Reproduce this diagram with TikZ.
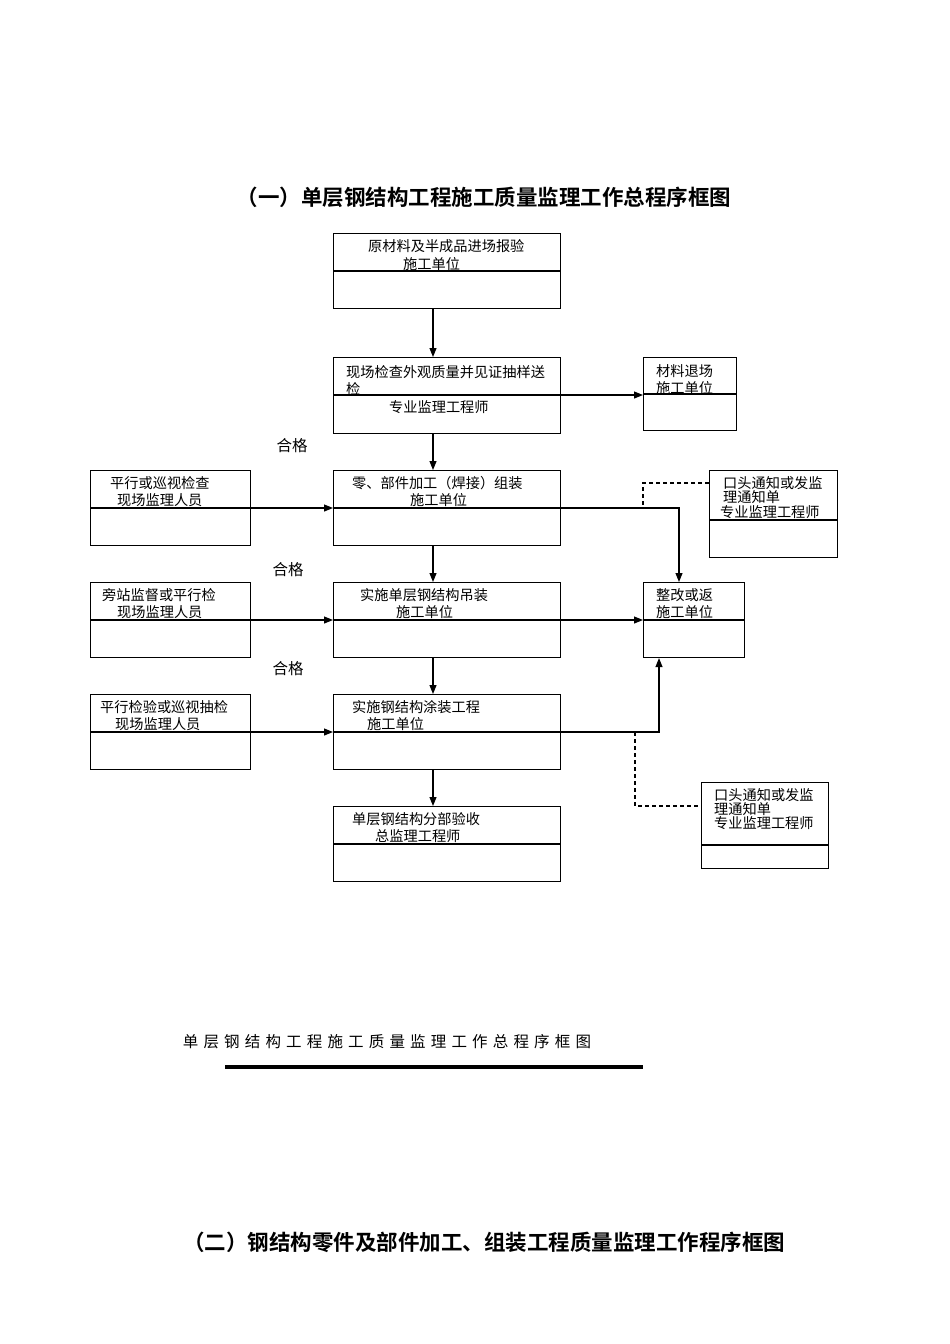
\documentclass[tikz,border=0pt]{standalone}
\usepackage{fontspec}
\setmainfont{Noto Sans CJK SC}[BoldFont={Noto Sans CJK SC Bold}]
\usetikzlibrary{arrows.meta}
\begin{document}
\begin{tikzpicture}[x=1pt,y=-1pt,
  bx/.style={draw,line width=1.1pt,anchor=north west,inner sep=0pt},
  t/.style={anchor=west,inner sep=0pt,font=\fontsize{14.2}{15}\selectfont},
  ar/.style={line width=1.1pt,-{Triangle[length=9pt,width=7pt]}},
  ln/.style={line width=1.1pt},
  ds/.style={line width=1.1pt,dash pattern=on 4pt off 3pt}]
\useasboundingbox (0,0) rectangle (950,1344);
\newcommand\mybox[6]{\node[bx,minimum width=#4-#2,minimum height=#5-#3] (#1) at (#2,#3) {};
  \draw[ln] (#2,#6) -- (#4,#6);}
\mybox{b1}{333}{233}{560}{308}{271}
\mybox{b2}{333}{357}{560}{433}{395}
\mybox{b3}{333}{470}{560}{545}{508}
\mybox{b4}{333}{582}{560}{657}{620}
\mybox{b5}{333}{694}{560}{769}{732}
\mybox{b6}{333}{806}{560}{881}{844}
\mybox{l1}{90}{470}{250}{545}{508}
\mybox{l2}{90}{582}{250}{657}{620}
\mybox{l3}{90}{694}{250}{769}{732}
\mybox{r1}{643}{357}{736}{430}{394}
\mybox{fx}{643}{582}{744}{657}{620}
\mybox{n1}{709}{470}{837}{557}{520}
\mybox{n2}{701}{782}{828}{868}{845}
\node[font=\bfseries\fontsize{21.5}{22}\selectfont] (title1) at (484,197) {（一）单层钢结构工程施工质量监理工作总程序框图};
\node[font=\bfseries\fontsize{21.5}{22}\selectfont] (title2) at (484,1242) {（二）钢结构零件及部件加工、组装工程质量监理工作程序框图};
\node[font=\fontsize{15.5}{16}\selectfont] (cap) at (387,1042) {单\,\,层\,\,钢\,\,结\,\,构\,\,工\,\,程\,\,施\,\,工\,\,质\,\,量\,\,监\,\,理\,\,工\,\,作\,\,总\,\,程\,\,序\,\,框\,\,图};
\draw[line width=4pt] (225,1067) coordinate (c1) -- (643,1067) coordinate (c2);
\node[t] at (368,246) {原材料及半成品进场报验};
\node[t] at (403,264) {施工单位};
\node[t] at (346,372) {现场检查外观质量并见证抽样送};
\node[t] at (346,389) {检};
\node[t] at (389,407) {专业监理工程师};
\node[t] at (352,483) {零、部件加工（焊接）组装};
\node[t] at (410,500) {施工单位};
\node[t] at (360,595) {实施单层钢结构吊装};
\node[t] at (396,612) {施工单位};
\node[t] at (352,707) {实施钢结构涂装工程};
\node[t] at (367,724) {施工单位};
\node[t] at (352,819) {单层钢结构分部验收};
\node[t] at (375,836) {总监理工程师};
\node[t] at (110,483) {平行或巡视检查};
\node[t] at (117,500) {现场监理人员};
\node[t] at (102,595) {旁站监督或平行检};
\node[t] at (117,612) {现场监理人员};
\node[t] at (100,707) {平行检验或巡视抽检};
\node[t] at (115,724) {现场监理人员};
\node[t] at (656,371) {材料退场};
\node[t] at (656,388) {施工单位};
\node[t] at (656,595) {整改或返};
\node[t] at (656,612) {施工单位};
\node[t] at (723,483) {口头通知或发监};
\node[t] at (723,497) {理通知单};
\node[t] at (720,512) {专业监理工程师};
\node[t] at (714,795) {口头通知或发监};
\node[t] at (714,809) {理通知单};
\node[t] at (714,823) {专业监理工程师};
\node[font=\fontsize{15.5}{16}\selectfont] at (292,446) {合格};
\node[font=\fontsize{15.5}{16}\selectfont] at (288,570) {合格};
\node[font=\fontsize{15.5}{16}\selectfont] at (288,669) {合格};
% vertical flow
\draw[ar] (b1.south -| 433,0) -- (b2.north -| 433,0);
\draw[ar] (b2.south -| 433,0) -- (b3.north -| 433,0);
\draw[ar] (b3.south -| 433,0) -- (b4.north -| 433,0);
\draw[ar] (b4.south -| 433,0) -- (b5.north -| 433,0);
\draw[ar] (b5.south -| 433,0) -- (b6.north -| 433,0);
% side
\draw[ar] (b2.east |- 0,395) -- (r1.west |- 0,395);
\draw[ar] (l1.east |- 0,508) -- (b3.west |- 0,508);
\draw[ar] (l2.east |- 0,620) -- (b4.west |- 0,620);
\draw[ar] (l3.east |- 0,732) -- (b5.west |- 0,732);
\draw[ar] (b4.east |- 0,620) -- (fx.west |- 0,620);
\draw[ar] (b3.east |- 0,508) -- (679,508) -- (fx.north -| 679,0);
\draw[ar] (b5.east |- 0,732) -- (659,732) -- (fx.south -| 659,0);
\draw[ds] (n1.west |- 0,483) -- (643,483) -- (643,508);
\draw[ds] (635,732) -- (635,806) -- (n2.west |- 0,806);
\end{tikzpicture}
\end{document}
